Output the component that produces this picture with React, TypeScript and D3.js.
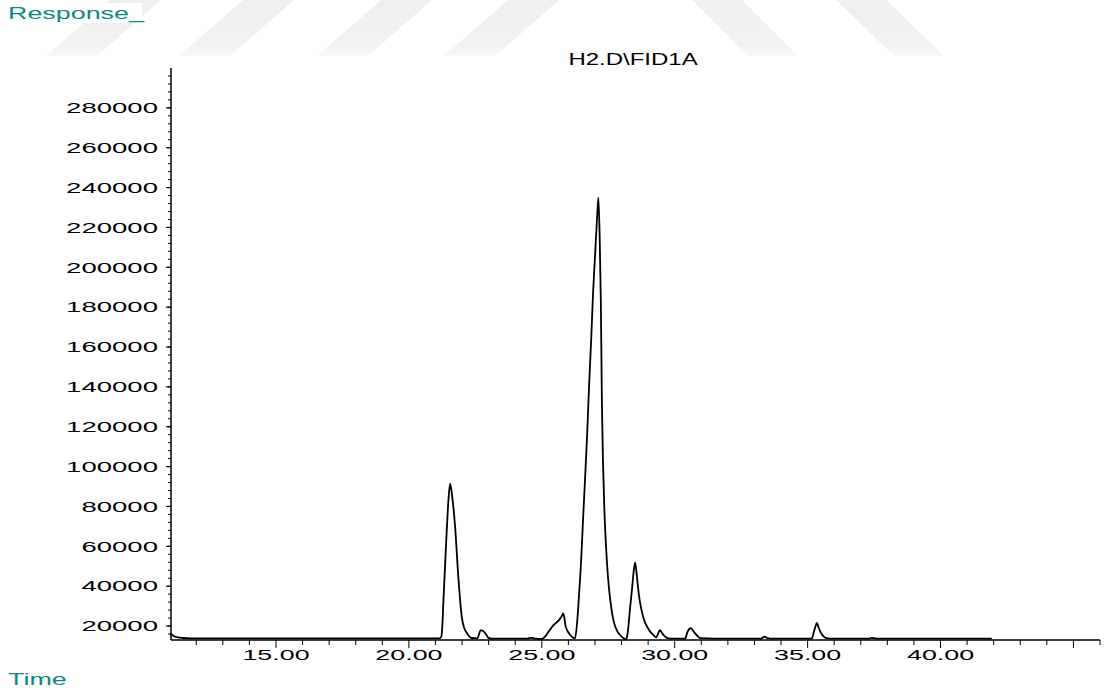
import React from "react";
import * as d3 from "d3";

// Chromatogram trace: retention time (min) and detector response
const retentionTime = [
  11.05, 11.15, 11.3, 11.5, 11.8, 14.0, 17.0, 20.0, 21.15, 21.22, 21.26, 21.3, 21.4, 21.49, 21.55,
  21.62, 21.74, 21.86, 21.99, 22.08, 22.18, 22.36, 22.58, 22.64, 22.7, 22.79, 22.87, 22.99, 23.12,
  24.45, 24.6, 24.75, 25.02, 25.14, 25.25, 25.44, 25.63, 25.73, 25.81, 25.9, 25.99, 26.07, 26.18,
  26.25, 26.33, 26.4, 26.48, 26.55, 26.63, 26.71, 26.78, 26.86, 26.93, 27.01, 27.08, 27.13, 27.18,
  27.22, 27.26, 27.3, 27.35, 27.4, 27.45, 27.5, 27.55, 27.6, 27.65, 27.72, 27.82, 27.91, 28.01, 28.1,
  28.17, 28.2, 28.26, 28.32, 28.39, 28.45, 28.51, 28.55, 28.6, 28.65, 28.7, 28.76, 28.82, 28.9, 29.0,
  29.1, 29.2, 29.3, 29.37, 29.44, 29.49, 29.58, 29.69, 29.84, 30.39, 30.48, 30.54, 30.61, 30.69, 30.77,
  30.86, 30.96, 31.5, 33.25, 33.38, 33.5, 33.6, 35.16, 35.22, 35.29, 35.35, 35.42, 35.54, 35.66,
  35.85, 37.3, 37.4, 37.55, 37.7, 41.9,
];
const response = [
  16000, 15000, 14300, 14000, 13850, 13800, 13800, 13800, 13800, 14600, 20500, 33000, 61500, 83500, 91500,
  86000, 69500, 44500, 24500, 19000, 16500, 14000, 13800, 16000, 18000, 17500, 16500, 14100, 13700,
  13700, 14100, 13700, 13600, 15000, 17100, 20500, 22700, 24500, 26300, 19700, 17000, 15500, 14200,
  13800, 22000, 35500, 53000, 73000, 94500, 117500, 141000, 164500, 187500, 207500, 225000, 235000, 213500,
  183500, 133500, 103500, 80000, 64000, 52000, 43000, 36000, 30500, 26000, 21500, 18000, 16000, 14600, 13700,
  13300, 14200, 20000, 29000, 38000, 46500, 51800, 48500, 42000, 36000, 31500, 27500, 24300, 21300, 18800,
  16800, 15400, 14300, 16000, 18000, 17200, 15500, 14200, 13700, 13700, 17100, 18500, 19000, 17700, 16300,
  15000, 13900, 13700, 13700, 14700, 13900, 13700, 13700, 16300, 19500, 21600, 19000, 15700, 14200,
  13700, 13700, 14100, 13800, 13700, 13700,
];

const yTickValues = [
  20000, 40000, 60000, 80000, 100000, 120000, 140000, 160000, 180000, 200000, 220000, 240000, 260000, 280000,
];
const xTickLabels = [15, 20, 25, 30, 35, 40];

const chartTitle = "H2.D\\FID1A";
const yAxisName = "Response_";
const xAxisName = "Time";

// faint background watermark stripes
const watermark: [number, number][][] = [
  [[46, 56], [97, 56], [161, 0], [110, 0]],
  [[179, 56], [230, 56], [294, 0], [243, 0]],
  [[317, 56], [368, 56], [432, 0], [381, 0]],
  [[444, 56], [495, 56], [559, 0], [508, 0]],
  [[692, 0], [742, 0], [798, 56], [748, 56]],
  [[836, 0], [886, 0], [944, 56], [894, 56]],
];

const FONT = "'Liberation Sans', Arial, Helvetica, sans-serif";
const TEAL = "#0b8a82";

export default function App() {
  const W = 1105;
  const H = 690;
  const left = 171, right = 1100, top = 68, bottom = 640;

  const x = d3.scaleLinear().domain([11.05, 46]).range([left, right]);
  const y = d3.scaleLinear().domain([13000, 300000]).range([bottom, top]);

  const pts: [number, number][] = retentionTime.map((t, i) => [t, response[i]]);
  const line = d3
    .line<[number, number]>()
    .x((d) => x(d[0]))
    .y((d) => y(d[1]))
    .curve(d3.curveMonotoneX);

  const xMinor = d3.range(12, 47);
  const yMinor = d3.range(16000, 300000, 4000);

  return (
    <svg
      width={W}
      height={H}
      viewBox={`0 0 ${W} ${H}`}
      style={{ position: "absolute", left: 0, top: 0, display: "block", background: "#fff" }}
    >
      <defs>
        <linearGradient id="wm" x1="0" y1="0" x2="0" y2="1">
          <stop offset="0" stopColor="#efefef" />
          <stop offset="0.8" stopColor="#f1f1f1" />
          <stop offset="1" stopColor="#f8f8f8" />
        </linearGradient>
      </defs>
      <rect x={0} y={0} width={W} height={H} fill="#fff" />
      {watermark.map((poly, i) => (
        <polygon key={i} points={poly.map((p) => p.join(",")).join(" ")} fill="url(#wm)" />
      ))}

      {/* axis name labels */}
      <rect x={5} y={3} width={137} height={20} fill="#fff" />
      <text
        transform="translate(8,18.5) scale(1.68,1)"
        fontFamily={FONT}
        fontSize={16}
        fill={TEAL}
      >
        {yAxisName}
      </text>
      <text
        transform="translate(8,684.5) scale(1.68,1)"
        fontFamily={FONT}
        fontSize={16}
        fill={TEAL}
      >
        {xAxisName}
      </text>

      {/* title */}
      <text
        transform="translate(633,65) scale(1.5,1)"
        textAnchor="middle"
        fontFamily={FONT}
        fontSize={16}
        fill="#000"
      >
        {chartTitle}
      </text>

      {/* y axis */}
      <line x1={left} x2={left} y1={top} y2={bottom} stroke="#000" strokeWidth={1.5} />
      {yMinor.map((v) => (
        <line key={"ym" + v} x1={left - 3} x2={left} y1={y(v)} y2={y(v)} stroke="#000" strokeWidth={1} />
      ))}
      {yTickValues.map((v) => (
        <g key={"yt" + v}>
          <line x1={left - 5} x2={left} y1={y(v)} y2={y(v)} stroke="#000" strokeWidth={1.2} />
          <text
            transform={`translate(158,${y(v) + 5.2}) scale(1.9,1)`}
            textAnchor="end"
            fontFamily={FONT}
            fontSize={14.5}
            fill="#000"
          >
            {String(v)}
          </text>
        </g>
      ))}

      {/* x axis */}
      <line x1={left} x2={right} y1={bottom} y2={bottom} stroke="#000" strokeWidth={1.3} />
      {xMinor.map((t) => (
        <line
          key={"xm" + t}
          x1={x(t)}
          x2={x(t)}
          y1={bottom}
          y2={bottom + (t % 5 === 0 ? 8 : 5)}
          stroke="#000"
          strokeWidth={1}
        />
      ))}
      {xTickLabels.map((t) => (
        <text
          key={"xt" + t}
          transform={`translate(${x(t)},660) scale(1.85,1)`}
          textAnchor="middle"
          fontFamily={FONT}
          fontSize={14.5}
          fill="#000"
        >
          {t.toFixed(2)}
        </text>
      ))}

      {/* chromatogram trace */}
      <path
        d={line(pts) || ""}
        fill="none"
        stroke="#000"
        strokeWidth={1.8}
        strokeLinejoin="round"
        strokeLinecap="round"
      />
    </svg>
  );
}
